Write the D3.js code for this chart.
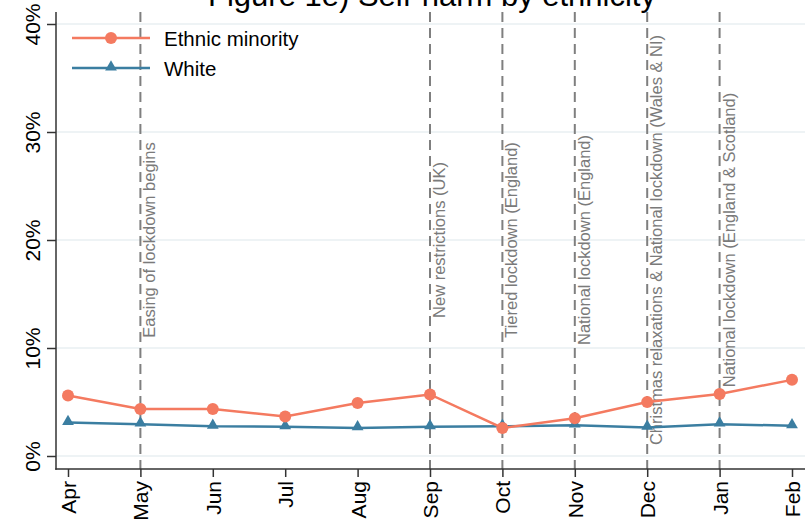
<!DOCTYPE html>
<html><head><meta charset="utf-8">
<script src="https://cdn.jsdelivr.net/npm/d3@7"></script>
<style>body{margin:0;background:#fff}svg{display:block;font-family:"Liberation Sans",Arial,sans-serif}</style>
</head><body>
<svg id="c" width="810" height="523"></svg>
<script>
const months = ["Apr","May","Jun","Jul","Aug","Sep","Oct","Nov","Dec","Jan","Feb"];
const ethnicMinority = [5.6, 4.35, 4.35, 3.65, 4.9, 5.7, 2.6, 3.5, 5.0, 5.75, 7.05];
const white = [3.1, 2.95, 2.75, 2.7, 2.6, 2.7, 2.75, 2.85, 2.65, 2.95, 2.8];
const yTicks = [0, 10, 20, 30, 40];
const eventMonths = ["May","Sep","Oct","Nov","Dec","Jan"];
const eventLabels = ["Easing of lockdown begins","New restrictions (UK)","Tiered lockdown (England)","National lockdown (England)","Christmas relaxations & National lockdown (Wales & NI)","National lockdown (England & Scotland)"];
const seriesNames = ["Ethnic minority","White"];
const title = "Figure 1e) Self-harm by ethnicity";

const orange = "#f47a60", blue = "#3b7ea1";
const svg = d3.select("#c");
const L = 56, R = 805, T = 12, B = 469;
const x = d3.scalePoint().domain(months).range([68, 792]);
const y = d3.scaleLinear().domain([0, 40]).range([456, 24]);

// title
svg.append("text").attr("x", 432).attr("y", 6).attr("text-anchor", "middle")
  .attr("font-size", 31).attr("fill", "#000").text(title);

// gridlines
svg.append("g").selectAll("line").data(yTicks).join("line")
  .attr("x1", L).attr("x2", R).attr("y1", d => y(d)).attr("y2", d => y(d))
  .attr("stroke", "#e9eff2").attr("stroke-width", 1.5);

// event lines
svg.append("g").selectAll("line").data(eventMonths).join("line")
  .attr("x1", d => x(d)).attr("x2", d => x(d)).attr("y1", T).attr("y2", B)
  .attr("stroke", "#7f7f7f").attr("stroke-width", 2).attr("stroke-dasharray", "10,6");
svg.append("g").selectAll("text").data(eventMonths).join("text")
  .attr("transform", d => `translate(${x(d) + 15},${y(20)}) rotate(-90)`)
  .attr("text-anchor", "middle").attr("font-size", 16.5).attr("fill", "#7a7a7a")
  .text((d, i) => eventLabels[i]);

// axes
const yAxis = d3.axisLeft(y).tickValues(yTicks).tickSize(9).tickFormat(d => d + "%");
const gy = svg.append("g").attr("transform", `translate(${L},0)`).call(yAxis);
gy.select(".domain").remove();
gy.selectAll(".tick line").attr("stroke", "#333").attr("stroke-width", 1.5);
gy.selectAll(".tick text").attr("font-size", 21).attr("fill", "#000")
  .attr("x", null).attr("dy", null).attr("text-anchor", "middle")
  .attr("transform", "translate(-16,0) rotate(-90)");
svg.append("line").attr("x1", L).attr("x2", L).attr("y1", T).attr("y2", B + 0.75)
  .attr("stroke", "#333").attr("stroke-width", 1.5);

const xAxis = d3.axisBottom(x).tickSize(8);
const gx = svg.append("g").attr("transform", `translate(0,${B})`).call(xAxis);
gx.select(".domain").remove();
gx.selectAll(".tick line").attr("stroke", "#333").attr("stroke-width", 1.5);
gx.selectAll(".tick text").attr("font-size", 21).attr("fill", "#000")
  .attr("y", null).attr("dy", null).attr("text-anchor", "end")
  .attr("transform", "translate(7.5,12) rotate(-90)");
svg.append("line").attr("x1", L - 0.75).attr("x2", R).attr("y1", B).attr("y2", B)
  .attr("stroke", "#333").attr("stroke-width", 1.5);

// series
const line = d3.line().x((d, i) => x(months[i])).y(d => y(d));
svg.append("path").datum(white).attr("d", line).attr("fill", "none").attr("stroke", blue).attr("stroke-width", 2.5);
svg.append("path").datum(ethnicMinority).attr("d", line).attr("fill", "none").attr("stroke", orange).attr("stroke-width", 2.5);
const tri = d3.symbol().type(d3.symbolTriangle).size(60);
svg.append("g").selectAll("path").data(white).join("path")
  .attr("d", tri).attr("transform", (d, i) => `translate(${x(months[i])},${y(d) - 1})`).attr("fill", blue);
svg.append("g").selectAll("circle").data(ethnicMinority).join("circle")
  .attr("cx", (d, i) => x(months[i])).attr("cy", d => y(d)).attr("r", 6).attr("fill", orange);

// legend
const lg = svg.append("g");
const colors = [orange, blue];
seriesNames.forEach((n, i) => {
  const ly = 38 + i * 30;
  lg.append("line").attr("x1", 72).attr("x2", 150).attr("y1", ly).attr("y2", ly)
    .attr("stroke", colors[i]).attr("stroke-width", 2.5);
  if (i === 0) lg.append("circle").attr("cx", 111).attr("cy", ly).attr("r", 6).attr("fill", colors[i]);
  else lg.append("path").attr("d", tri).attr("transform", `translate(111,${ly - 1})`).attr("fill", colors[i]);
  lg.append("text").attr("x", 164).attr("y", ly + 7.5).attr("font-size", 20.5).attr("fill", "#000").text(n);
});
</script>
</body></html>
